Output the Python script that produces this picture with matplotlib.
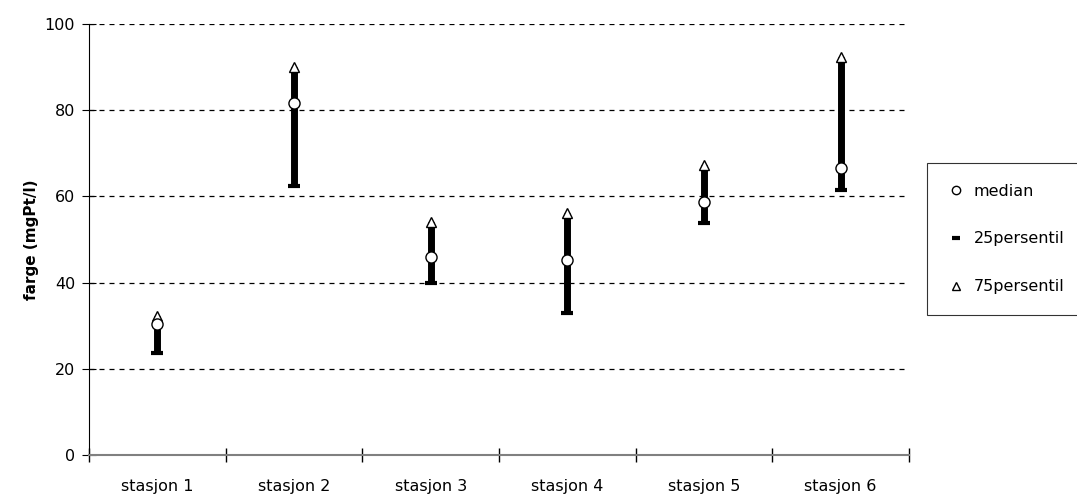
import numpy as np
import matplotlib.pyplot as plt
from matplotlib.lines import Line2D

plt.rcParams['font.family'] = ['DejaVu Sans']

stations = ['stasjon 1', 'stasjon 2', 'stasjon 3', 'stasjon 4', 'stasjon 5', 'stasjon 6']
median = [30.4, 81.7, 46.0, 45.2, 58.8, 66.6]
p25 = [23.7, 62.4, 40.0, 33.0, 53.8, 61.5]
p75 = [32.2, 90.0, 54.0, 56.1, 67.3, 92.3]

fig = plt.figure(figsize=(10.77, 4.98), dpi=100)
ax = fig.add_axes([0.0826, 0.0863, 0.7614, 0.8655])

x = np.arange(len(stations))

# high-low bars
ax.vlines(x, p25, p75, color='black', lw=5, zorder=3)
ax.plot(x, p25, linestyle='none', marker='_', ms=8, mew=3, color='black', zorder=4)
ax.plot(x, p75, linestyle='none', marker='^', ms=7, mfc='white', mec='black', mew=1, zorder=5)
ax.plot(x, median, linestyle='none', marker='o', ms=8, mfc='white', mec='black', mew=1, zorder=5)

ax.set_xlim(-0.5, len(stations) - 0.5)
ax.set_ylim(0, 100)
ax.set_yticks([0, 20, 40, 60, 80, 100])
for v in [20, 40, 60, 80, 100]:
    ax.axhline(v, color='black', lw=0.9, dashes=(4, 4), zorder=1)

ax.set_xticks(x)
ax.set_xticklabels(stations, fontsize=11.5)
ax.set_xticks(np.arange(-0.5, len(stations)), minor=True)
ax.tick_params(axis='x', which='major', length=0, pad=17)
ax.tick_params(axis='x', which='minor', length=10, direction='inout', width=1, color='black')
ax.tick_params(axis='y', length=10, direction='inout', labelsize=11.5, pad=5)

ax.spines['top'].set_visible(False)
ax.spines['right'].set_visible(False)
ax.spines['bottom'].set_color('#808080')
ax.spines['bottom'].set_linewidth(1.5)
ax.spines['left'].set_color('black')

ax.set_ylabel('farge (mgPt/l)', fontsize=11, fontweight='bold', labelpad=4)

handles = [
    Line2D([], [], linestyle='none', marker='o', ms=6, mfc='white', mec='black', mew=1),
    Line2D([], [], linestyle='none', marker='_', ms=6, mew=3, color='black'),
    Line2D([], [], linestyle='none', marker='^', ms=6, mfc='white', mec='black', mew=1),
]
leg = fig.legend(handles, ['median', '25persentil', '75persentil'],
                 loc='upper left', bbox_to_anchor=(0.861, 0.673),
                 frameon=True, fancybox=False, edgecolor='black',
                 fontsize=11.5, labelspacing=2.05, handlelength=1.0,
                 handletextpad=0.6, borderpad=1.3, borderaxespad=0)
leg.get_frame().set_linewidth(0.8)

fig.savefig('out.png', dpi=100)
